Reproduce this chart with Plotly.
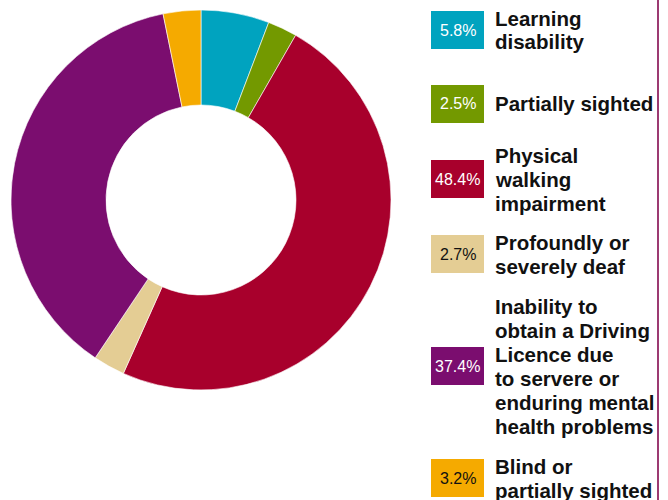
import plotly.graph_objects as go

W, H = 668, 500

# ---- data ----
categories = [
    "Learning disability",
    "Partially sighted",
    "Physical walking impairment",
    "Profoundly or severely deaf",
    "Inability to obtain a Driving Licence due to servere or enduring mental health problems",
    "Blind or partially sighted",
]
values = [5.8, 2.5, 48.4, 2.7, 37.4, 3.2]
label_lines = [
    ["Learning", "disability"],
    ["Partially sighted"],
    ["Physical", "walking", "impairment"],
    ["Profoundly or", "severely deaf"],
    ["Inability to", "obtain a Driving", "Licence due", "to servere or", "enduring mental", "health problems"],
    ["Blind or", "partially sighted"],
]
colors = ["#00a3bf", "#739900", "#a8002c", "#e4cd94", "#7b0d6f", "#f5aa00"]
pct_text_colors = ["#ffffff", "#ffffff", "#ffffff", "#111111", "#ffffff", "#111111"]

# ---- layout helpers (pixel -> paper) ----
def px(x):
    return x / W

def py(y):
    return 1 - y / H

fig = go.Figure()
fig.add_trace(go.Pie(
    labels=categories,
    values=values,
    hole=0.5,
    sort=False,
    direction="clockwise",
    rotation=0,
    marker=dict(colors=colors, line=dict(color="#ffffff", width=0.6)),
    textinfo="none",
    hoverinfo="label+percent",
    showlegend=False,
    domain=dict(x=[px(11), px(391)], y=[py(390), py(10)]),
))

box_centers = [30, 104, 179, 254, 366, 478]
box_x0, box_x1, box_h = 431, 484, 38
line_h = 24
label_font = dict(family="Liberation Sans", size=20.5, color="#111111", weight="bold")

shapes = []
annotations = []
for i, v in enumerate(values):
    cy = box_centers[i]
    shapes.append(dict(type="rect", xref="paper", yref="paper",
                       x0=px(box_x0), x1=px(box_x1),
                       y0=py(cy + box_h / 2), y1=py(cy - box_h / 2),
                       fillcolor=colors[i], line=dict(width=0), layer="above"))
    annotations.append(dict(xref="paper", yref="paper",
                            x=px((box_x0 + box_x1) / 2), y=py(cy),
                            text=f"{v}%", showarrow=False,
                            xanchor="center", yanchor="middle",
                            font=dict(family="Liberation Sans", size=16, color=pct_text_colors[i])))
    lines = label_lines[i]
    n = len(lines)
    for j, ln in enumerate(lines):
        ly = cy + (j - (n - 1) / 2) * line_h
        annotations.append(dict(xref="paper", yref="paper",
                                x=px(493), y=py(ly),
                                text=ln, showarrow=False,
                                xanchor="left", yanchor="middle",
                                font=label_font))

shapes.append(dict(type="line", xref="paper", yref="paper",
                   x0=px(658), x1=px(658), y0=0, y1=1,
                   line=dict(color="#9c3a72", width=2), layer="above"))

fig.update_layout(
    width=W, height=H,
    margin=dict(l=0, r=0, t=0, b=0),
    paper_bgcolor="#ffffff",
    plot_bgcolor="#ffffff",
    shapes=shapes,
    annotations=annotations,
    showlegend=False,
)

fig.write_html("out.html", config={"displayModeBar": False},
               post_script="document.body.style.margin='0px';document.body.style.overflow='hidden';")
